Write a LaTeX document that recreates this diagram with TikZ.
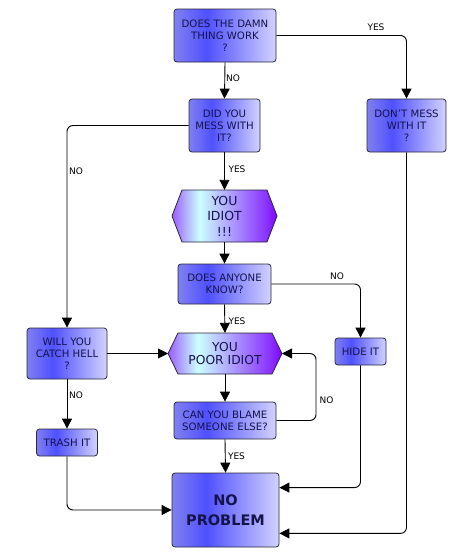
\documentclass[tikz,border=0pt]{standalone}
\usepackage{fontspec}
\setmainfont{DejaVu Sans}
\usetikzlibrary{arrows.meta,calc}
\definecolor{bA}{HTML}{8080F0}
\definecolor{bB}{HTML}{5050FF}
\definecolor{bC}{HTML}{D2D2FF}
\definecolor{hA}{HTML}{9A5CFF}
\definecolor{hB}{HTML}{CCFFFF}
\definecolor{hC}{HTML}{8A30FF}
\definecolor{hD}{HTML}{8000FF}
\definecolor{navy}{HTML}{14144A}
\definecolor{edge}{HTML}{2A2A3A}
\pgfdeclarehorizontalshading{boxshade}{100bp}{color(0bp)=(bA); color(25bp)=(bA); color(41bp)=(bB); color(75bp)=(bC); color(100bp)=(bC)}
\pgfdeclarehorizontalshading{hexshade}{100bp}{color(0bp)=(hA); color(25bp)=(hA); color(38bp)=(hB); color(70bp)=(hC); color(75bp)=(hD); color(100bp)=(hD)}
\begin{document}
\begin{tikzpicture}[x=1pt,y=-1pt,
  box/.style={draw=edge, line width=0.8pt, rounded corners=3pt, shade, shading=boxshade,
    text=navy, align=center, inner sep=0pt, font=\fontsize{10.2}{11.8}\selectfont},
  hexbody/.style={draw=edge, line width=0.8pt, shade, shading=hexshade},
  hextext/.style={text=navy, align=center, inner sep=0pt, font=\fontsize{12.5}{15.5}\selectfont},
  lbl/.style={inner sep=0pt, font=\fontsize{9}{10}\selectfont},
  conn/.style={line width=0.9pt, rounded corners=6pt},
  arr/.style={conn, -{Triangle[width=10pt,length=10pt]}}]
\useasboundingbox (0,0) rectangle (466,555);
\fill[white] (0,0) rectangle (466,555);

% boxes
\node[box, minimum width=102pt, minimum height=53pt] (n1) at (225,35.5) {DOES THE DAMN\\THING WORK\\?};
\node[box, minimum width=79pt, minimum height=53pt] (n2) at (406.5,125.5) {DON'T MESS\\WITH IT\\?};
\node[box, minimum width=71pt, minimum height=53pt] (n3) at (224.5,125.5) {DID YOU\\MESS WITH\\IT?};
\node[box, minimum width=93pt, minimum height=40pt] (n4) at (224.5,284) {DOES ANYONE\\KNOW?};
\node[box, minimum width=51pt, minimum height=27pt] (n5) at (360.5,351.5) {HIDE IT};
\node[box, minimum width=80pt, minimum height=51pt] (n6) at (67,353.5) {WILL YOU\\CATCH HELL\\?};
\node[box, minimum width=61pt, minimum height=27pt] (n7) at (67,442.5) {TRASH IT};
\node[box, minimum width=102pt, minimum height=37pt] (n8) at (225,420.5) {CAN YOU BLAME\\SOMEONE ELSE?};
\node[box, minimum width=107pt, minimum height=74pt, font=\fontsize{14.5}{20}\selectfont\bfseries] (n9) at (225.5,510) {NO\\PROBLEM};

% hexagons
\path[hexbody] (172,216) -- (182,190) -- (267,190) -- (277,216) -- (267,242) -- (182,242) -- cycle;
\coordinate (h1l) at (172,216);
\coordinate (h1r) at (277,216);
\node[hextext, minimum width=85pt, minimum height=52pt] (h1) at (224.5,216) {YOU\\IDIOT\\!!!};
\path[hexbody] (168,353.5) -- (178,333) -- (272,333) -- (282,353.5) -- (272,374) -- (178,374) -- cycle;
\coordinate (h2l) at (168,353.5);
\coordinate (h2r) at (282,353.5);
\node[hextext, font=\fontsize{12.3}{13.5}\selectfont, minimum width=94pt, minimum height=41pt] (h2) at (225,353.5) {YOU\\POOR IDIOT};

% connectors
\draw[arr] (n1.east) -| (n2.north);
\draw[arr] (n1.south) -- (n3.north);
\draw[arr] (n3.west) -| (n6.north);
\draw[arr] (n3.south) -- (h1.north);
\draw[arr] (h1.south) -- (n4.north);
\draw[arr] (n4.east) -| (n5.north);
\draw[arr] (n4.south) -- (h2.north);
\draw[arr] (n6.east) -- (h2l);
\draw[arr] (h2.south) -- (n8.north);
\draw[arr] (n8.east) -| ($(h2r)+(34,0)$) -- (h2r);
\draw[arr] (n8.south) -- (n9.north);
\draw[arr] (n6.south) -- (n7.north);
\draw[arr] (n7.south) |- (n9.west);
\draw[arr] (n5.south) |- ($(n9.north east)+(0,15)$);
\draw[arr] (n2.south) |- ($(n9.south east)+(0,-14)$);

% labels
\node[lbl] (l1) at (376,27) {YES};
\node[lbl] (l2) at (233,78) {NO};
\node[lbl] (l3) at (76,171) {NO};
\node[lbl] (l4) at (237,169) {YES};
\node[lbl] (l5) at (337,276) {NO};
\node[lbl] (l6) at (237,321) {YES};
\node[lbl] (l7) at (76,395) {NO};
\node[lbl] (l8) at (326.5,400) {NO};
\node[lbl] (l9) at (236.5,456) {YES};
\end{tikzpicture}
\end{document}
